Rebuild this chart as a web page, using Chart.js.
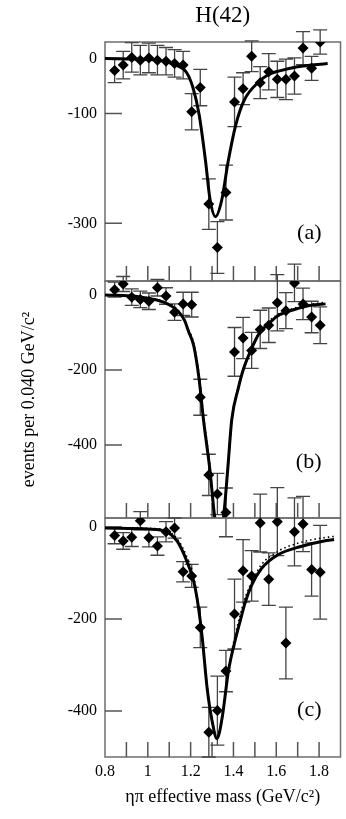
<!DOCTYPE html>
<html>
<head>
<meta charset="utf-8">
<title>H(42)</title>
<script src="https://cdn.jsdelivr.net/npm/chart.js@4.4.1/dist/chart.umd.min.js"></script>
<style>
  html, body { margin: 0; padding: 0; background: #fff; }
  #wrap { position: relative; width: 346px; height: 819px; }
  #wrap canvas { position: absolute; left: 0; top: 0; }
</style>
</head>
<body>
<div id="wrap">
  <canvas id="panel-a" width="346" height="819"></canvas>
  <canvas id="panel-b" width="346" height="819"></canvas>
  <canvas id="panel-c" width="346" height="819"></canvas>
</div>
<script>
// ---- Data ----
var MASS_BINS = [0.845, 0.885, 0.925, 0.965, 1.005, 1.045, 1.085, 1.125, 1.165, 1.205,
                 1.245, 1.285, 1.325, 1.365, 1.405, 1.445, 1.485, 1.525, 1.565, 1.605,
                 1.645, 1.685, 1.725, 1.765, 1.805];

var EVENTS_A = [-22, -12, 2, -3, 1, -3, -5, -9, -12, -97, -53, -265, -344, -244, -79, -55, 4, -44, -24, -38, -38, -32, 19, -18, 30];
var ERRORS_A = [22, 25, 27, 27, 27, 27, 25, 25, 25, 33, 33, 46, 47, 50, 45, 29, 28, 29, 33, 33, 37, 33, 30, 22, 22];

var EVENTS_B = [14, 29, -6, -12, -17, 19, -3, -46, -24, -26, -273, -480, -531, -580, -152, -115, -148, -92, -81, -21, -42, 32, -24, -59, -81];
var ERRORS_B = [20, 20, 22, 22, 22, 22, 22, 22, 31, 33, 48, 55, 55, 65, 65, 55, 48, 51, 46, 75, 48, 50, 42, 42, 49];

var EVENTS_C = [-18, -30, -22, 14, -23, -41, -10, -2, -97, -106, -218, -446, -399, -313, -189, -95, -106, 9, -113, 12, -252, -10, 7, -92, -98];
var ERRORS_C = [18, 18, 20, 20, 20, 20, 22, 22, 22, 25, 44, 54, 75, 45, 76, 68, 55, 63, 57, 74, 78, 74, 60, 58, 102];

// fit curves, [mass, events]
var FIT_A = [[0.80, 0], [0.95, -1], [1.05, -3], [1.13, -12], [1.18, -25], [1.21, -52], [1.24, -103],
             [1.27, -188], [1.29, -255], [1.316, -288], [1.345, -258], [1.375, -188], [1.41, -122],
             [1.45, -76], [1.52, -42], [1.56, -30], [1.62, -22], [1.70, -15], [1.84, -9]];

var FIT_B = [[0.80, 0], [0.95, -4], [1.01, -10], [1.08, -21], [1.14, -43], [1.17, -66], [1.19, -97],
             [1.215, -137], [1.24, -227], [1.26, -333], [1.29, -467], [1.312, -591], [1.333, -660],
             [1.354, -591], [1.373, -467], [1.392, -333], [1.423, -248], [1.446, -199], [1.481, -148],
             [1.523, -100], [1.561, -79], [1.604, -57], [1.684, -39], [1.761, -28], [1.83, -24]];
var FIT_B_DOTTED = [[0.80, 0], [1.01, -8], [1.08, -19], [1.14, -40], [1.19, -92], [1.215, -130], [1.24, -215],
                    [1.26, -320], [1.29, -455], [1.31, -580], [1.333, -650], [1.356, -580], [1.376, -455],
                    [1.395, -320], [1.425, -240], [1.45, -190], [1.485, -142], [1.523, -97], [1.60, -55],
                    [1.68, -36], [1.76, -25], [1.83, -20]];

var FIT_C = [[0.80, -2], [1.00, -4], [1.06, -6], [1.10, -13], [1.138, -31], [1.177, -68], [1.215, -119],
             [1.235, -170], [1.254, -240], [1.277, -350], [1.30, -421], [1.323, -460], [1.346, -418],
             [1.377, -312], [1.408, -246], [1.431, -205], [1.454, -165], [1.485, -126], [1.531, -90],
             [1.608, -60], [1.715, -42], [1.823, -30], [1.87, -27]];
var FIT_C_DOTTED = [[0.80, -1], [1.06, -4], [1.10, -10], [1.14, -27], [1.18, -62], [1.215, -110], [1.25, -220],
                    [1.275, -335], [1.30, -418], [1.323, -455], [1.348, -410], [1.38, -300], [1.41, -232],
                    [1.45, -160], [1.49, -115], [1.53, -82], [1.61, -52], [1.70, -35], [1.78, -26], [1.87, -20]];

// ---- Axes ----
var X_RANGE = [0.8, 1.9];
var X_LABELS = [0.8, 1, 1.2, 1.4, 1.6, 1.8];
var X_TICK_MARKS = [0.9, 1.0, 1.1, 1.2, 1.3, 1.4, 1.5, 1.6, 1.7, 1.8];
var Y_RANGE_A = [-405, 30], Y_TICKS_A = [0, -100, -300];
var Y_RANGE_B = [-595, 37], Y_TICKS_B = [0, -200, -400];
var Y_RANGE_C = [-500, 20], Y_TICKS_C = [0, -200, -400];

var SERIF = "'Liberation Serif', 'DejaVu Serif', serif";

Chart.defaults.font.family = SERIF;
Chart.defaults.color = '#000';

function toPoints(xs, ys) {
  return xs.map(function (x, i) { return { x: x, y: ys[i] }; });
}
function pairs(list) {
  return list.map(function (p) { return { x: p[0], y: p[1] }; });
}

// ---- Frame, inward ticks, error bars, panel letter ----
var panelDecor = {
  id: 'panelDecor',
  beforeDatasetsDraw: function (chart, args, opts) {
    var ctx = chart.ctx, area = chart.chartArea;
    var xs = chart.scales.x, ys = chart.scales.y;
    ctx.save();

    ctx.strokeStyle = '#6e6e6e';
    ctx.lineWidth = 1.5;
    ctx.strokeRect(area.left, area.top, area.right - area.left, area.bottom - area.top);

    ctx.strokeStyle = '#555';
    ctx.lineWidth = 1.5;
    ctx.beginPath();
    X_TICK_MARKS.forEach(function (v) {
      var px = xs.getPixelForValue(v);
      ctx.moveTo(px, area.bottom);
      ctx.lineTo(px, area.bottom - 15);
    });
    opts.yTicks.forEach(function (v) {
      var py = ys.getPixelForValue(v);
      ctx.moveTo(area.left, py);
      ctx.lineTo(area.left + 17, py);
    });
    ctx.stroke();

    // error bars (not clipped, they run into the next panel like the original)
    ctx.strokeStyle = '#444';
    ctx.lineWidth = 1.3;
    ctx.beginPath();
    opts.values.forEach(function (v, i) {
      var px = xs.getPixelForValue(MASS_BINS[i]);
      var top = ys.getPixelForValue(v + opts.errors[i]);
      var bot = ys.getPixelForValue(v - opts.errors[i]);
      ctx.moveTo(px, top); ctx.lineTo(px, bot);
      ctx.moveTo(px - 7, top); ctx.lineTo(px + 7, top);
      ctx.moveTo(px - 7, bot); ctx.lineTo(px + 7, bot);
    });
    ctx.stroke();
    ctx.restore();
  },
  afterDraw: function (chart, args, opts) {
    var ctx = chart.ctx, area = chart.chartArea;
    ctx.save();
    ctx.fillStyle = '#000';
    ctx.font = '22px ' + SERIF;
    ctx.textAlign = 'right';
    ctx.textBaseline = 'middle';
    ctx.fillText(opts.letter, area.right - 19, area.bottom - opts.letterLift);
    ctx.restore();
  }
};

// ---- Build one panel ----
function makePanel(cfg) {
  var datasets = [{
    data: toPoints(MASS_BINS, cfg.values),
    pointStyle: 'rectRot',
    pointRadius: 5.5,
    pointBackgroundColor: '#000',
    pointBorderWidth: 0,
    showLine: false
  }, {
    data: pairs(cfg.fit),
    showLine: true,
    pointRadius: 0,
    borderColor: '#000',
    borderWidth: 3,
    cubicInterpolationMode: 'monotone'
  }];
  if (cfg.dotted) {
    datasets.push({
      data: pairs(cfg.dotted),
      showLine: true,
      pointRadius: 0,
      borderColor: '#000',
      borderWidth: 1.6,
      borderDash: [1.5, 3],
      cubicInterpolationMode: 'monotone'
    });
  }

  var isBottom = !!cfg.bottomAxis;

  return new Chart(document.getElementById(cfg.canvas), {
    type: 'scatter',
    data: { datasets: datasets },
    plugins: [panelDecor],
    options: {
      responsive: false,
      animation: false,
      devicePixelRatio: 1,
      layout: { padding: cfg.padding },
      plugins: {
        legend: { display: false },
        tooltip: { enabled: false },
        title: {
          display: !!cfg.title,
          text: cfg.title || '',
          fullSize: false,
          color: '#000',
          font: { family: SERIF, size: 23, weight: 'normal', lineHeight: 1.2 },
          padding: { top: 2, bottom: 12.4 }
        },
        panelDecor: {
          yTicks: cfg.yTicks,
          values: cfg.values,
          errors: cfg.errors,
          letter: cfg.letter,
          letterLift: cfg.letterLift
        }
      },
      scales: {
        x: {
          type: 'linear',
          min: X_RANGE[0],
          max: X_RANGE[1],
          afterBuildTicks: function (scale) {
            scale.ticks = X_LABELS.map(function (v) { return { value: v }; });
          },
          afterFit: function (scale) { scale.height = isBottom ? 62 : 0; },
          grid: { display: false, drawTicks: false },
          border: { display: false },
          ticks: {
            display: isBottom,
            maxRotation: 0,
            autoSkip: false,
            padding: 5,
            color: '#000',
            font: { family: SERIF, size: 16 },
            callback: function (v) { return String(v); }
          },
          title: {
            display: isBottom,
            text: 'ηπ effective mass (GeV/c²)',
            color: '#000',
            font: { family: SERIF, size: 18 },
            padding: { top: 0, bottom: 11 }
          }
        },
        y: {
          type: 'linear',
          min: cfg.yRange[0],
          max: cfg.yRange[1],
          afterBuildTicks: function (scale) {
            scale.ticks = cfg.yTicks.map(function (v) { return { value: v }; });
          },
          afterFit: function (scale) { scale.width = 105; },
          grid: { display: false, drawTicks: false },
          border: { display: false },
          ticks: {
            autoSkip: false,
            padding: 8,
            color: '#000',
            font: { family: SERIF, size: 16 },
            callback: function (v) { return String(v); }
          },
          title: {
            display: !!cfg.yTitle,
            text: cfg.yTitle || '',
            color: '#000',
            font: { family: SERIF, size: 18 },
            padding: { top: 18, bottom: 0 }
          }
        }
      }
    }
  });
}

// ---- Panels ----
makePanel({
  canvas: 'panel-a', title: 'H(42)', letter: '(a)', letterLift: 48,
  values: EVENTS_A, errors: ERRORS_A, fit: FIT_A,
  yRange: Y_RANGE_A, yTicks: Y_TICKS_A,
  padding: { left: 0, right: 3, top: 0, bottom: 538 }
});

makePanel({
  canvas: 'panel-b', letter: '(b)', letterLift: 56,
  values: EVENTS_B, errors: ERRORS_B, fit: FIT_B, dotted: FIT_B_DOTTED,
  yRange: Y_RANGE_B, yTicks: Y_TICKS_B,
  yTitle: 'events per 0.040 GeV/c²',
  padding: { left: 0, right: 3, top: 281, bottom: 301 }
});

makePanel({
  canvas: 'panel-c', letter: '(c)', letterLift: 47,
  values: EVENTS_C, errors: ERRORS_C, fit: FIT_C, dotted: FIT_C_DOTTED,
  yRange: Y_RANGE_C, yTicks: Y_TICKS_C, bottomAxis: true,
  padding: { left: 0, right: 3, top: 518, bottom: 0 }
});
</script>
</body>
</html>
